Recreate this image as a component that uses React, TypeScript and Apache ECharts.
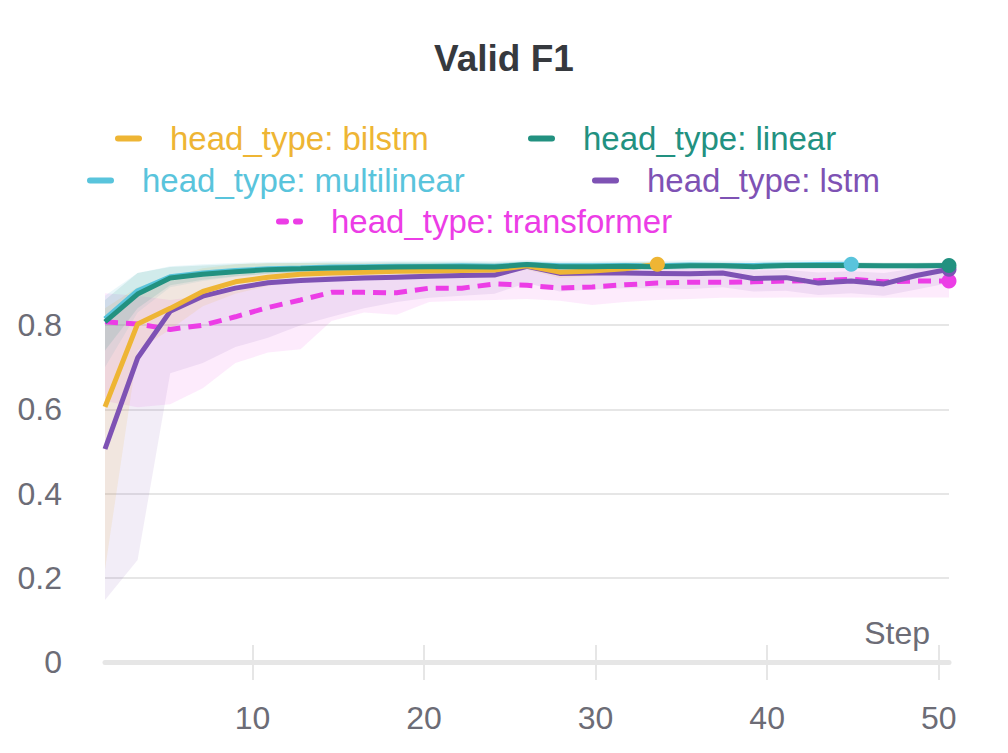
import React, { useEffect, useRef } from "react";
import * as echarts from "echarts";

// ---- data ----
const steps = [1.4, 3.3, 5.2, 7.1, 9.0, 10.9, 12.8, 14.6, 16.5, 18.4, 20.3, 22.2, 24.1, 26.0, 27.9, 29.8, 31.7, 33.6, 35.5, 37.4, 39.2, 41.1, 43.0, 44.9, 46.8, 48.7, 50.6];

const bilstm = [0.606, 0.803, 0.84, 0.88, 0.903, 0.914, 0.921, 0.924, 0.926, 0.928, 0.929, 0.93, 0.931, 0.941, 0.926, 0.929, 0.934, 0.945];
const bilstmLow = [0.22, 0.74, 0.79, 0.845, 0.875, 0.893, 0.905, 0.91, 0.913, 0.916, 0.918, 0.919, 0.92, 0.932, 0.912, 0.917, 0.924, 0.937];
const bilstmHigh = [0.84, 0.89, 0.915, 0.935, 0.945, 0.948, 0.948, 0.948, 0.947, 0.947, 0.947, 0.947, 0.947, 0.951, 0.944, 0.945, 0.948, 0.952];

const linear = [0.808, 0.874, 0.912, 0.921, 0.927, 0.932, 0.934, 0.936, 0.937, 0.938, 0.939, 0.939, 0.938, 0.944, 0.939, 0.939, 0.94, 0.939, 0.941, 0.941, 0.939, 0.942, 0.942, 0.942, 0.941, 0.941, 0.942];
const linearLow = [0.74, 0.84, 0.895, 0.908, 0.916, 0.922, 0.925, 0.927, 0.929, 0.93, 0.931, 0.931, 0.93, 0.937, 0.931, 0.931, 0.932, 0.931, 0.933, 0.933, 0.931, 0.934, 0.934, 0.934, 0.933, 0.933, 0.934];
const linearHigh = [0.86, 0.924, 0.938, 0.942, 0.945, 0.947, 0.948, 0.949, 0.949, 0.95, 0.95, 0.95, 0.949, 0.952, 0.949, 0.949, 0.95, 0.949, 0.95, 0.95, 0.948, 0.95, 0.95, 0.95, 0.949, 0.949, 0.95];

const multilinear = [0.815, 0.882, 0.915, 0.924, 0.93, 0.934, 0.936, 0.938, 0.939, 0.94, 0.94, 0.941, 0.94, 0.944, 0.941, 0.941, 0.942, 0.941, 0.943, 0.942, 0.942, 0.943, 0.944, 0.945];
const multilinearLow = [0.7, 0.83, 0.89, 0.905, 0.915, 0.922, 0.926, 0.928, 0.93, 0.931, 0.931, 0.932, 0.931, 0.936, 0.932, 0.932, 0.933, 0.932, 0.934, 0.933, 0.933, 0.934, 0.935, 0.936];
const multilinearHigh = [0.87, 0.924, 0.94, 0.945, 0.948, 0.95, 0.951, 0.952, 0.952, 0.953, 0.953, 0.953, 0.952, 0.955, 0.952, 0.952, 0.953, 0.952, 0.954, 0.953, 0.953, 0.954, 0.954, 0.955];

const lstm = [0.506, 0.722, 0.833, 0.869, 0.888, 0.901, 0.906, 0.909, 0.912, 0.914, 0.916, 0.918, 0.919, 0.94, 0.923, 0.924, 0.924, 0.923, 0.922, 0.924, 0.911, 0.913, 0.9, 0.905, 0.898, 0.918, 0.933];
const lstmLow = [0.147, 0.242, 0.686, 0.71, 0.748, 0.77, 0.8, 0.82, 0.84, 0.855, 0.865, 0.87, 0.875, 0.9, 0.88, 0.885, 0.888, 0.888, 0.886, 0.89, 0.88, 0.882, 0.872, 0.876, 0.87, 0.885, 0.9];
const lstmHigh = [0.8, 0.87, 0.905, 0.915, 0.92, 0.925, 0.928, 0.93, 0.931, 0.932, 0.933, 0.934, 0.934, 0.948, 0.937, 0.938, 0.938, 0.937, 0.936, 0.938, 0.93, 0.931, 0.925, 0.928, 0.924, 0.935, 0.945];

const transformer = [0.808, 0.803, 0.79, 0.8, 0.82, 0.842, 0.86, 0.878, 0.878, 0.877, 0.888, 0.888, 0.898, 0.895, 0.888, 0.891, 0.896, 0.9, 0.902, 0.902, 0.903, 0.905, 0.906, 0.909, 0.903, 0.905, 0.905];
const transformerLow = [0.62, 0.605, 0.612, 0.65, 0.71, 0.735, 0.743, 0.81, 0.83, 0.825, 0.855, 0.858, 0.86, 0.862, 0.858, 0.848, 0.855, 0.86, 0.862, 0.865, 0.865, 0.866, 0.866, 0.866, 0.865, 0.866, 0.866];
const transformerHigh = [0.876, 0.87, 0.86, 0.87, 0.88, 0.9, 0.91, 0.92, 0.92, 0.92, 0.925, 0.925, 0.93, 0.94, 0.925, 0.925, 0.93, 0.932, 0.933, 0.933, 0.933, 0.935, 0.935, 0.936, 0.934, 0.935, 0.935];

const xTickValues = [10, 20, 30, 40, 50];
const yLabelValues = [0, 0.2, 0.4, 0.6, 0.8];
const yGridValues = [0.2, 0.4, 0.6, 0.8];

const FONT = "'Liberation Sans', Arial, Helvetica, sans-serif";
const AXIS_TEXT = "#6c6c76";
const GRID_COLOR = "#e6e6e6";

type Run = {
  name: string;
  color: string;
  band: string;
  values: number[];
  low: number[];
  high: number[];
  dashed?: boolean;
  legendLeft: number;
  legendTop: number;
};

const runs: Run[] = [
  { name: "head_type: transformer", color: "#ec3de6", band: "rgba(236,61,230,0.10)", values: transformer, low: transformerLow, high: transformerHigh, dashed: true, legendLeft: 276, legendTop: 205 },
  { name: "head_type: multilinear", color: "#59c4dc", band: "rgba(89,196,220,0.13)", values: multilinear, low: multilinearLow, high: multilinearHigh, legendLeft: 87, legendTop: 164 },
  { name: "head_type: lstm", color: "#7e52b4", band: "rgba(126,82,180,0.10)", values: lstm, low: lstmLow, high: lstmHigh, legendLeft: 592, legendTop: 164 },
  { name: "head_type: bilstm", color: "#eeb534", band: "rgba(238,181,52,0.12)", values: bilstm, low: bilstmLow, high: bilstmHigh, legendLeft: 115, legendTop: 122 },
  { name: "head_type: linear", color: "#229180", band: "rgba(34,145,128,0.12)", values: linear, low: linearLow, high: linearHigh, legendLeft: 528, legendTop: 122 },
];

const pairs = (ys: number[]) => ys.map((y, i) => [steps[i], y]);

export default function App() {
  const ref = useRef<HTMLDivElement>(null);

  useEffect(() => {
    document.body.style.margin = "0";
    if (!ref.current) return;
    const chart = echarts.init(ref.current, undefined, { renderer: "svg" });

    const series: any[] = [];
    // min/max bands, drawn as polygons through the axis scales
    runs.forEach((r, k) => {
      series.push({
        type: "custom",
        name: "band-" + k,
        silent: true,
        clip: true,
        z: 1,
        data: [[steps[0], r.values[0]]],
        renderItem: (_params: any, api: any) => {
          const upper = r.high.map((h, i) => api.coord([steps[i], h]));
          const lower = r.low.map((l, i) => api.coord([steps[i], l])).reverse();
          return {
            type: "polygon",
            shape: { points: upper.concat(lower) },
            style: { fill: r.band, stroke: "none" },
          };
        },
      });
    });
    // lines
    runs.forEach((r) => {
      series.push({
        type: "line",
        name: r.name,
        data: pairs(r.values),
        symbol: "none",
        color: r.color,
        lineStyle: {
          color: r.color,
          width: 5,
          type: r.dashed ? [13, 8] : "solid",
        },
        z: 3,
      });
    });
    // end dots
    runs.forEach((r, k) => {
      const n = r.values.length - 1;
      series.push({
        type: "scatter",
        name: "end-" + k,
        data: [[steps[n], r.values[n]]],
        symbol: "circle",
        symbolSize: 15,
        itemStyle: { color: r.color, opacity: 1 },
        z: 4,
        silent: true,
      });
    });

    const legends = runs.map((r) => ({
      show: true,
      left: r.legendLeft,
      top: r.legendTop,
      padding: 0,
      itemWidth: 21,
      itemHeight: 12,
      selectedMode: false,
      data: [
        {
          name: r.name,
          textStyle: { color: r.color },
          itemStyle: { opacity: 0 },
          lineStyle: r.dashed ? { type: [7, 10], width: 6, cap: "round" } : { width: 6, cap: "round" },
        },
      ],
      itemStyle: { opacity: 0 },
      lineStyle: { width: 6, cap: "round" },
      textStyle: { fontSize: 33, fontFamily: FONT, padding: [0, 0, 6, 26] },
    }));

    chart.setOption({
      animation: false,
      backgroundColor: "#ffffff",
      title: {
        text: "Valid F1",
        left: "center",
        top: 40,
        padding: 0,
        textStyle: { fontSize: 37, fontWeight: "bold", color: "#36393e", fontFamily: FONT },
      },
      legend: legends,
      grid: { left: 105, right: 59, top: 241, bottom: 91, containLabel: false },
      xAxis: [
        {
          type: "value",
          min: 1.4,
          max: 50.6,
          position: "bottom",
          name: "Step",
          nameLocation: "end",
          nameGap: -19,
          nameTextStyle: {
            fontSize: 32,
            fontFamily: FONT,
            color: AXIS_TEXT,
            align: "right",
            verticalAlign: "bottom",
            padding: [0, 0, 13, 0],
          },
          axisLine: { show: true, lineStyle: { color: GRID_COLOR, width: 5 } },
          axisTick: {
            show: true,
            length: 18,
            customValues: xTickValues,
            lineStyle: { color: GRID_COLOR, width: 2 },
          },
          axisLabel: {
            show: true,
            customValues: xTickValues,
            fontSize: 32,
            fontFamily: FONT,
            color: AXIS_TEXT,
            margin: 40,
          },
          splitLine: { show: false },
        },
        {
          type: "value",
          min: 1.4,
          max: 50.6,
          position: "bottom",
          offset: 0,
          axisLine: { show: false },
          axisTick: {
            show: true,
            inside: true,
            length: 17,
            customValues: xTickValues,
            lineStyle: { color: GRID_COLOR, width: 2 },
          },
          axisLabel: { show: false },
          splitLine: { show: false },
        },
      ],
      yAxis: {
        type: "value",
        min: 0,
        max: 1,
        axisLine: { show: false },
        axisTick: { show: false, customValues: yGridValues },
        axisLabel: {
          customValues: yLabelValues,
          fontSize: 32,
          fontFamily: FONT,
          color: AXIS_TEXT,
          margin: 43,
          formatter: (v: number) => String(Math.round(v * 10) / 10),
        },
        splitLine: { show: true, lineStyle: { color: GRID_COLOR, width: 2 } },
      },
      series,
    });

    return () => chart.dispose();
  }, []);

  return (
    <div
      ref={ref}
      style={{ position: "absolute", left: 0, top: 0, width: 1008, height: 753 }}
    />
  );
}
